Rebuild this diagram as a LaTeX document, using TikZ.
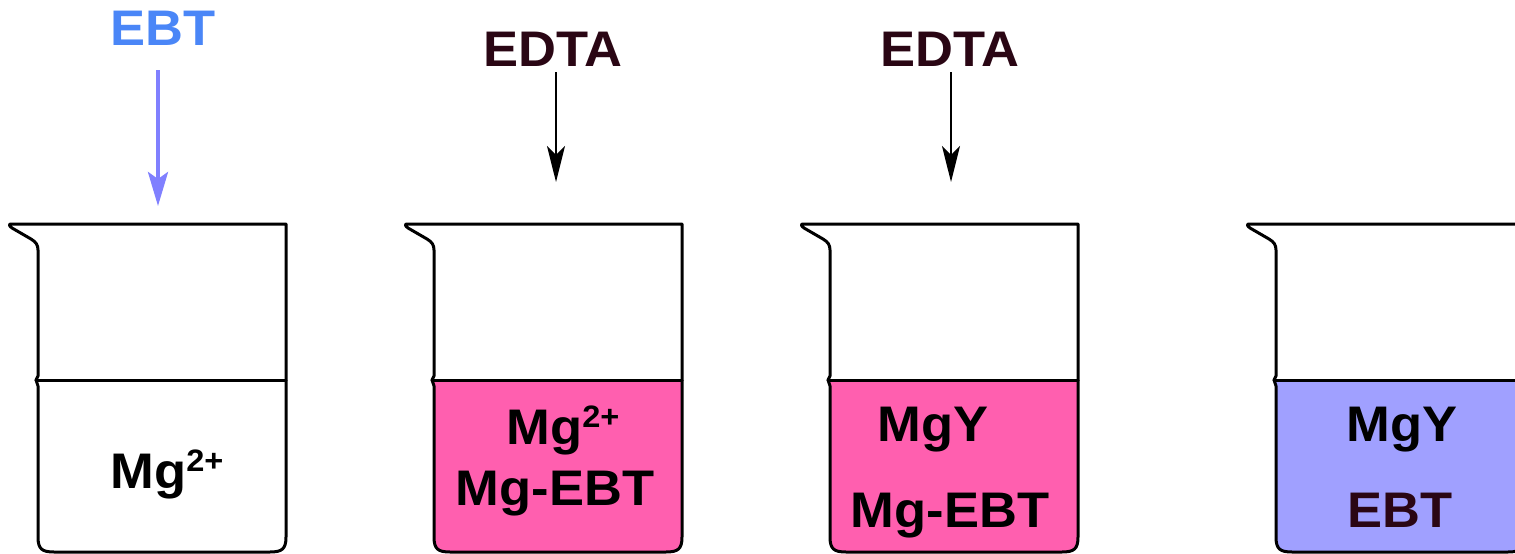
\documentclass[tikz,border=0pt]{standalone}
\usepackage{fontspec}
\setmainfont[FakeStretch=1.05]{Liberation Sans}
\usetikzlibrary{arrows.meta}
\definecolor{pinkliq}{HTML}{FF5FAF}
\definecolor{blueliq}{HTML}{A0A0FF}
\definecolor{ebtblue}{HTML}{4A86F7}
\definecolor{ebtarrow}{HTML}{8080FF}
\definecolor{maroon}{HTML}{2A0614}
\newcommand{\supcharge}[1]{\raisebox{17pt}{\fontsize{31}{31}\selectfont #1}}
\tikzset{
  beakerline/.style={draw=black, line width=3pt, line join=round, line cap=round},
  lbl/.style={anchor=base, inner sep=0pt, font=\bfseries\fontsize{50}{60}\selectfont},
  edtaarrow/.style={draw=black, line width=2pt, -{Stealth[length=36pt,width=18pt,inset=9pt]}},
  ebtarr/.style={draw=ebtarrow, line width=4pt, -{Stealth[length=34pt,width=20pt,inset=7pt]}},
  pics/beaker/.style={code={
    \fill[#1] (38,380) -- (286,380) -- (286,537) .. controls (286,549) and (282,552) .. (270,552)
      -- (54,552) .. controls (42,552) and (38,549) .. (38,537) -- cycle;
    \path[beakerline] (10,224) -- (286,224) -- (286,537) .. controls (286,549) and (282,552) .. (270,552)
      -- (54,552) .. controls (42,552) and (38,549) .. (38,537) -- (38,386) -- (36,380) -- (38,376)
      -- (38,250) .. controls (38,245) and (36,242) .. (31,239) -- (12,228) .. controls (9,226) and (9,224) .. cycle;
    \path[beakerline] (36,380) -- (286,380);
  }}
}
\begin{document}
\begin{tikzpicture}[x=1pt,y=-1pt]
\useasboundingbox (0,0) rectangle (1515,554);
\clip (0,0) rectangle (1515,554);
% beakers
\pic (b1) at (0,0) {beaker=white};
\pic (b2) at (396,0) {beaker=pinkliq};
\pic (b3) at (792,0) {beaker=pinkliq};
\pic (b4) at (1238,0) {beaker=blueliq};
% labels above
\node[lbl, text=ebtblue] (ebt) at (163,45) {EBT};
\node[lbl, text=maroon] (edta1) at (553,66) {EDTA};
\node[lbl, text=maroon] (edta2) at (950,66) {EDTA};
% arrows
\coordinate (a1s) at (158,70);
\coordinate (a1e) at (158,206);
\coordinate (a2s) at (556,72);
\coordinate (a2e) at (556,182);
\coordinate (a3s) at (951,72);
\coordinate (a3e) at (951,182);
\draw[ebtarr] (a1s) -- (a1e);
\draw[edtaarrow] (a2s) -- (a2e);
\draw[edtaarrow] (a3s) -- (a3e);
% contents
\node[lbl] (c1) at (167,488) {Mg\supcharge{2+}};
\node[lbl] (c2a) at (563,444) {Mg\supcharge{2+}};
\node[lbl] (c2b) at (555,505) {Mg-EBT};
\node[lbl] (c3a) at (933,441) {MgY};
\node[lbl] (c3b) at (950,527) {Mg-EBT};
\node[lbl] (c4a) at (1402,441) {MgY};
\node[lbl, text=maroon] (c4b) at (1400,527) {EBT};
\end{tikzpicture}
\end{document}
